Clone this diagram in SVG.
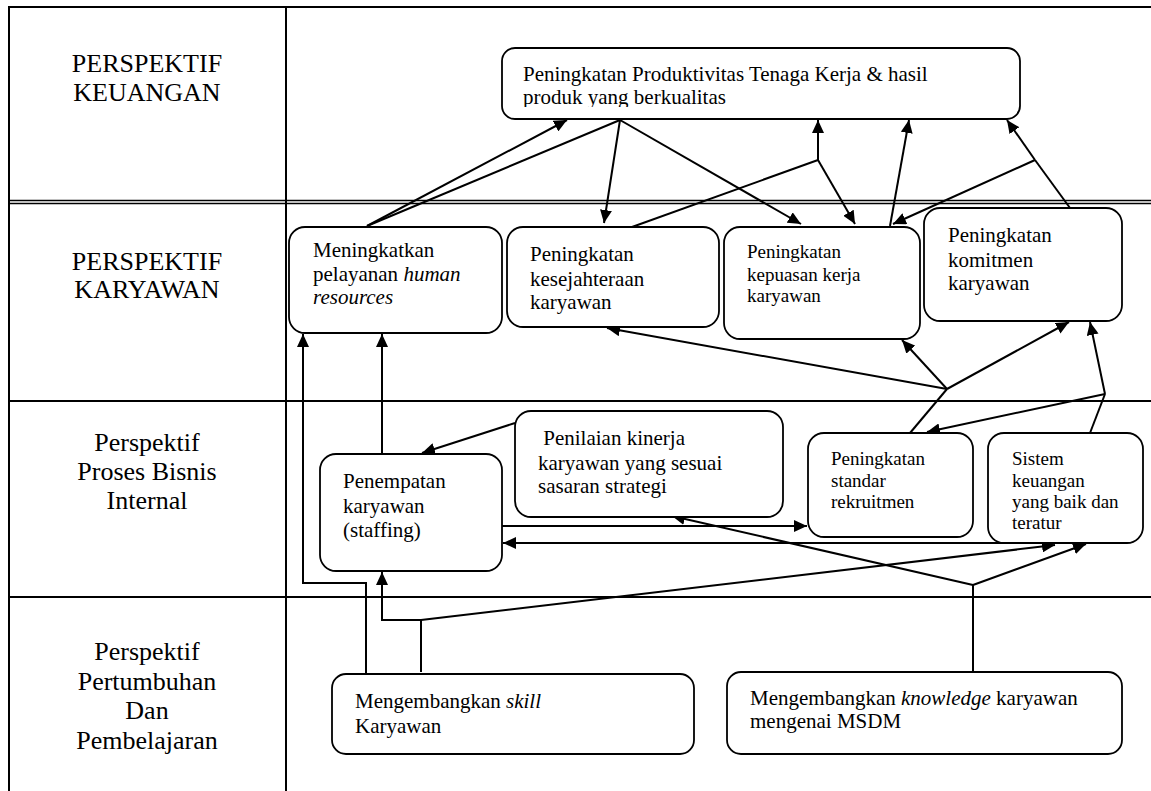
<svg xmlns="http://www.w3.org/2000/svg" width="1151" height="791" viewBox="0 0 1151 791">
<style>
.grid{stroke:#000;stroke-width:2;fill:none}
.box{fill:#fff;stroke:#000;stroke-width:1.8}
.lbl{font-family:"Liberation Serif","Times New Roman",serif;font-size:26px;fill:#000;text-anchor:middle}
.t{font-family:"Liberation Serif","Times New Roman",serif;font-size:21px;fill:#000}
.s{font-family:"Liberation Serif","Times New Roman",serif;font-size:19px;fill:#000}
.c{stroke:#000;stroke-width:2;fill:none}
.a{stroke:#000;stroke-width:2;fill:none;marker-end:url(#ah)}
</style>
<defs>
<marker id="ah" markerUnits="userSpaceOnUse" markerWidth="14" markerHeight="12" refX="13" refY="6" orient="auto">
<path d="M0,0 L13,6 L0,12 z" fill="#000"/>
</marker>
<marker id="ahs" markerUnits="userSpaceOnUse" markerWidth="14" markerHeight="12" refX="13" refY="6" orient="auto-start-reverse">
<path d="M0,0 L13,6 L0,12 z" fill="#000"/>
</marker>
<clipPath id="clipTop"><rect x="502" y="48" width="518" height="59"/></clipPath>
<clipPath id="clipSis"><rect x="988" y="433" width="155" height="96"/></clipPath>
</defs>
<rect width="1151" height="791" fill="#fff"/>

<g id="table">
<line class="grid" x1="9" y1="7" x2="1151" y2="7"/>
<line class="grid" x1="9" y1="6" x2="9" y2="791"/>
<line class="grid" x1="286" y1="7" x2="286" y2="791"/>
<line x1="9" y1="200.5" x2="1151" y2="200.5" stroke="#000" stroke-width="1.3"/>
<line x1="9" y1="203.5" x2="1151" y2="203.5" stroke="#000" stroke-width="1.3"/>
<line class="grid" x1="9" y1="401" x2="1151" y2="401"/>
<line class="grid" x1="9" y1="597" x2="1151" y2="597"/>
<text class="lbl" x="147" y="72">PERSPEKTIF</text>
<text class="lbl" x="147" y="101">KEUANGAN</text>
<text class="lbl" x="147" y="270">PERSPEKTIF</text>
<text class="lbl" x="147" y="298">KARYAWAN</text>
<text class="lbl" x="147" y="451">Perspektif</text>
<text class="lbl" x="147" y="480">Proses Bisnis</text>
<text class="lbl" x="147" y="509">Internal</text>
<text class="lbl" x="147" y="660">Perspektif</text>
<text class="lbl" x="147" y="690">Pertumbuhan</text>
<text class="lbl" x="147" y="719">Dan</text>
<text class="lbl" x="147" y="749">Pembelajaran</text>
</g>

<g id="connectors">
<!-- top node to karyawan row -->
<line class="a" x1="367" y1="226" x2="567" y2="120"/>
<line class="c" x1="367" y1="226" x2="620" y2="120"/>
<line class="a" x1="620" y1="120" x2="604" y2="223"/>
<line class="a" x1="620" y1="120" x2="801" y2="224"/>
<polyline class="c" points="632,227 818,160"/>
<line class="a" x1="818" y1="160" x2="818" y2="120"/>
<line class="a" x1="818" y1="160" x2="855" y2="224"/>
<line class="a" x1="890" y1="226" x2="909" y2="120"/>
<line class="c" x1="1070" y1="208" x2="1035" y2="160"/>
<line class="a" x1="1035" y1="160" x2="1007" y2="120"/>
<line class="a" x1="1035" y1="160" x2="893" y2="224"/>
<!-- internal to karyawan -->
<line class="c" x1="910" y1="433" x2="947" y2="389"/>
<line class="a" x1="947" y1="389" x2="607" y2="328"/>
<line class="a" x1="947" y1="389" x2="902" y2="340"/>
<line class="a" x1="947" y1="389" x2="1069" y2="322"/>
<line class="c" x1="1090" y1="433" x2="1105" y2="394"/>
<line class="a" x1="1105" y1="394" x2="1090" y2="322"/>
<line class="a" x1="1105" y1="394" x2="927" y2="432"/>
<line class="a" x1="382" y1="454" x2="382" y2="334"/>
<!-- internal row -->
<line class="a" x1="515" y1="423" x2="422" y2="453"/>
<line class="a" x1="502" y1="526" x2="807" y2="526"/>
<line x1="503" y1="543" x2="1056" y2="543" stroke="#000" stroke-width="2" marker-start="url(#ahs)" marker-end="url(#ah)"/>
<!-- learning row -->
<polyline class="a" points="366,673 366,583 303,583 303,334"/>
<polyline class="a" points="421,672 421,620 382,620 382,572"/>
<line class="a" x1="421" y1="620" x2="1055" y2="545"/>
<line class="c" x1="973" y1="672" x2="973" y2="585"/>
<line class="a" x1="973" y1="585" x2="672" y2="516"/>
<line class="a" x1="973" y1="585" x2="1086" y2="544"/>
</g>

<g id="n-produktivitas">
<rect class="box" x="502" y="48" width="518" height="71" rx="13"/>
<g clip-path="url(#clipTop)">
<text class="t" x="523" y="81">Peningkatan Produktivitas Tenaga Kerja &amp; hasil</text>
<text class="t" x="523" y="104">produk yang berkualitas</text>
</g>
</g>

<g id="n-pelayanan">
<rect class="box" x="289" y="227" width="213" height="106" rx="16"/>
<text class="t" x="313" y="257">Meningkatkan</text>
<text class="t" x="313" y="281">pelayanan <tspan font-style="italic">human</tspan></text>
<text class="t" x="313" y="304" font-style="italic">resources</text>
</g>

<g id="n-kesejahteraan">
<rect class="box" x="507" y="227" width="212" height="100" rx="16"/>
<text class="t" x="530" y="261">Peningkatan</text>
<text class="t" x="530" y="286">kesejahteraan</text>
<text class="t" x="530" y="309">karyawan</text>
</g>

<g id="n-kepuasan">
<rect class="box" x="724" y="227" width="196" height="112" rx="16"/>
<text class="s" x="747" y="258">Peningkatan</text>
<text class="s" x="747" y="281">kepuasan kerja</text>
<text class="s" x="747" y="302">karyawan</text>
</g>

<g id="n-komitmen">
<rect class="box" x="924" y="208" width="198" height="113" rx="16"/>
<text class="t" x="948" y="242">Peningkatan</text>
<text class="t" x="948" y="267">komitmen</text>
<text class="t" x="948" y="290">karyawan</text>
</g>

<g id="n-penempatan">
<rect class="box" x="320" y="454" width="182" height="117" rx="16"/>
<text class="t" x="343" y="488">Penempatan</text>
<text class="t" x="343" y="513">karyawan</text>
<text class="t" x="343" y="537">(staffing)</text>
</g>

<g id="n-penilaian">
<rect class="box" x="515" y="411" width="268" height="106" rx="16"/>
<text class="t" x="538" y="445" xml:space="preserve"> Penilaian kinerja</text>
<text class="t" x="538" y="470">karyawan yang sesuai</text>
<text class="t" x="538" y="493">sasaran strategi</text>
</g>

<g id="n-rekruitmen">
<rect class="box" x="808" y="433" width="165" height="104" rx="16"/>
<text class="s" x="831" y="465">Peningkatan</text>
<text class="s" x="831" y="487">standar</text>
<text class="s" x="831" y="508">rekruitmen</text>
</g>

<g id="n-keuangan">
<rect class="box" x="988" y="433" width="155" height="110" rx="16"/>
<g clip-path="url(#clipSis)">
<text class="s" x="1012" y="465">Sistem</text>
<text class="s" x="1012" y="487">keuangan</text>
<text class="s" x="1012" y="508">yang baik dan</text>
<text class="s" x="1012" y="529">teratur</text>
</g>
</g>

<g id="n-skill">
<rect class="box" x="332" y="674" width="362" height="80" rx="14"/>
<text class="t" x="355" y="708">Mengembangkan <tspan font-style="italic">skill</tspan></text>
<text class="t" x="355" y="733">Karyawan</text>
</g>

<g id="n-knowledge">
<rect class="box" x="727" y="672" width="395" height="82" rx="14"/>
<text class="t" x="750" y="705">Mengembangkan <tspan font-style="italic">knowledge</tspan> karyawan</text>
<text class="t" x="750" y="728">mengenai MSDM</text>
</g>
</svg>
